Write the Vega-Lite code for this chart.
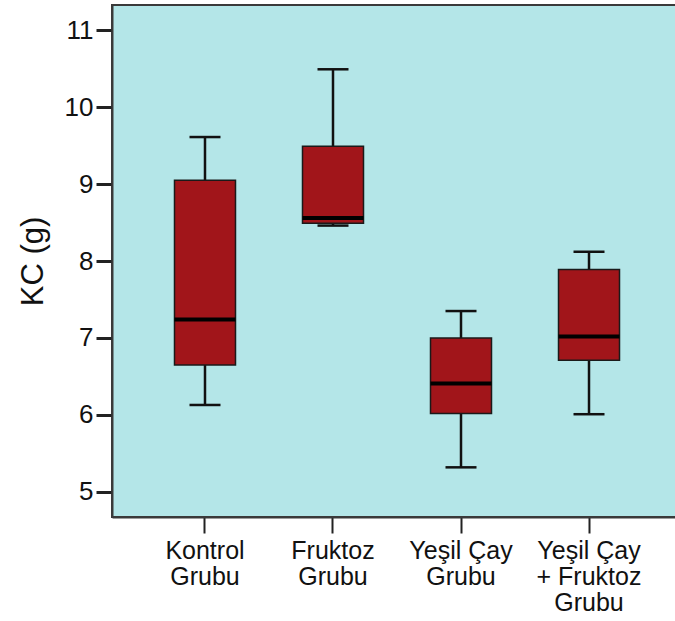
{
  "$schema": "https://vega.github.io/schema/vega-lite/v6.json",
  "autosize": {"type": "none"},
  "padding": {"left": 112, "top": 5, "right": 0, "bottom": 104},
  "width": 570,
  "height": 512,
  "background": "white",
  "config": {
    "view": {"fill": "#B4E6E8", "stroke": "#3a3a3a", "strokeWidth": 2},
    "font": "Liberation Sans",
    "axisY": {
      "titleFontSize": 31,
      "titleFontWeight": "normal",
      "titleColor": "#111",
      "titlePadding": 15,
      "labelFontSize": 26,
      "labelColor": "#111",
      "labelPadding": 3,
      "tickSize": 16,
      "tickWidth": 3,
      "tickColor": "#222",
      "domainColor": "#3a3a3a",
      "domainWidth": 2,
      "grid": false
    },
    "axisX": {
      "labelAngle": 0,
      "labelFontSize": 25,
      "labelColor": "#111",
      "labelLineHeight": 26,
      "labelPadding": 5,
      "labelBaseline": "top",
      "tickSize": 16,
      "tickWidth": 2,
      "tickColor": "#222",
      "domainColor": "#3a3a3a",
      "domainWidth": 2
    }
  },
  "data": {
    "values": [
      {"group": "Kontrol Grubu", "lower": 6.13, "q1": 6.65, "median": 7.24, "q3": 9.05, "upper": 9.61},
      {"group": "Fruktoz Grubu", "lower": 8.46, "q1": 8.49, "median": 8.56, "q3": 9.49, "upper": 10.49},
      {"group": "Yeşil Çay Grubu", "lower": 5.32, "q1": 6.02, "median": 6.41, "q3": 7.0, "upper": 7.35},
      {"group": "Yeşil Çay + Fruktoz Grubu", "lower": 6.01, "q1": 6.71, "median": 7.02, "q3": 7.89, "upper": 8.12}
    ]
  },
  "encoding": {
    "x": {
      "field": "group",
      "type": "nominal",
      "sort": null,
      "scale": {"paddingInner": 0.5, "paddingOuter": 0.4765},
      "axis": {
        "title": null,
        "labelExpr": "split(replace(replace(datum.label, ' + ', '|+ '), ' Grubu', '|Grubu'), '|')"
      }
    }
  },
  "layer": [
    {
      "mark": {"type": "rule", "color": "#111", "strokeWidth": 2.5},
      "encoding": {
        "y": {
          "field": "lower",
          "type": "quantitative",
          "scale": {"domain": [4.675, 11.325], "nice": false, "zero": false},
          "axis": {"title": "KC (g)", "values": [5, 6, 7, 8, 9, 10, 11], "format": "d"}
        },
        "y2": {"field": "upper"}
      }
    },
    {
      "mark": {"type": "bar", "size": 61, "color": "#A1151A", "stroke": "#1a1a1a", "strokeWidth": 1.5},
      "encoding": {
        "y": {"field": "q1", "type": "quantitative"},
        "y2": {"field": "q3"}
      }
    },
    {
      "mark": {"type": "tick", "size": 61, "thickness": 4, "color": "#000", "opacity": 1},
      "encoding": {"y": {"field": "median", "type": "quantitative"}}
    },
    {
      "mark": {"type": "tick", "size": 31, "thickness": 2.5, "color": "#111", "opacity": 1},
      "encoding": {"y": {"field": "upper", "type": "quantitative"}}
    },
    {
      "mark": {"type": "tick", "size": 31, "thickness": 2.5, "color": "#111", "opacity": 1},
      "encoding": {"y": {"field": "lower", "type": "quantitative"}}
    }
  ]
}
